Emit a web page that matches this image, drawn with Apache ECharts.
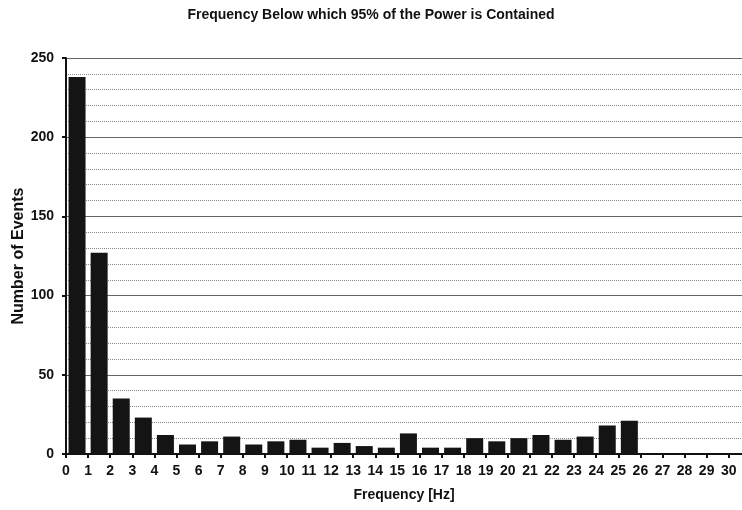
<!DOCTYPE html>
<html>
<head>
<meta charset="utf-8">
<script src="https://cdn.jsdelivr.net/npm/echarts@6/dist/echarts.min.js"></script>
<style>
  html, body { margin: 0; padding: 0; background: #fff; }
  #chart { width: 742px; height: 510px; }
</style>
</head>
<body>
<div id="chart"></div>
<script>
// Histogram of the frequency below which 95% of the power is contained
const binEdges = [0, 1, 2, 3, 4, 5, 6, 7, 8, 9, 10, 11, 12, 13, 14, 15, 16, 17, 18, 19, 20,
                  21, 22, 23, 24, 25, 26, 27, 28, 29, 30];
const eventCounts = [238, 127, 35, 23, 12, 6, 8, 11, 6, 8, 9, 4, 7, 5, 4, 13, 4, 4, 10, 8,
                     10, 12, 9, 11, 18, 21, 0, 0, 0, 0];
const yTicks = [0, 50, 100, 150, 200, 250];

const FONT = '"Liberation Sans", Arial, Helvetica, sans-serif';

// each bar sits in the middle of its 1 Hz bin
const barData = eventCounts.map((v, i) => [binEdges[i] + 0.5, v]);

const chart = echarts.init(document.getElementById('chart'), null, { renderer: 'canvas' });
chart.setOption({
  animation: false,
  backgroundColor: '#ffffff',
  title: {
    text: 'Frequency Below which 95% of the Power is Contained',
    left: 'center',
    top: 3,
    textStyle: { fontFamily: FONT, fontWeight: 'bold', fontSize: 14, color: '#111' }
  },
  grid: { left: 66, right: 0, top: 58, bottom: 56, outerBoundsMode: 'none', containLabel: false },
  xAxis: {
    type: 'value',
    min: 0,
    max: 30.6,
    interval: 1,
    name: 'Frequency [Hz]',
    nameLocation: 'middle',
    nameGap: 34,
    nameMoveOverlap: false,
    nameTextStyle: { fontFamily: FONT, fontWeight: 'bold', fontSize: 14, color: '#111' },
    axisLine: { show: true, lineStyle: { color: '#111', width: 2 } },
    axisTick: { show: true, inside: false, length: 4, customValues: binEdges, lineStyle: { color: '#111', width: 2 } },
    axisLabel: {
      customValues: binEdges,
      margin: 10,
      fontFamily: FONT, fontWeight: 'bold', fontSize: 14, color: '#111'
    },
    splitLine: { show: false }
  },
  yAxis: {
    type: 'value',
    min: 0,
    max: 250,
    interval: 50,
    name: 'Number of Events',
    nameLocation: 'middle',
    nameGap: 39,
    nameMoveOverlap: false,
    nameRotate: 90,
    nameTextStyle: { fontFamily: FONT, fontWeight: 'bold', fontSize: 16, color: '#111' },
    axisLine: { show: true, lineStyle: { color: '#111', width: 2 } },
    axisTick: { show: true, inside: false, length: 4, lineStyle: { color: '#111', width: 2 } },
    axisLabel: {
      customValues: yTicks,
      margin: 12,
      fontFamily: FONT, fontWeight: 'bold', fontSize: 14, color: '#111'
    },
    splitLine: { show: true, lineStyle: { color: '#666', width: 1, type: 'solid' } },
    minorTick: { show: false, splitNumber: 5 },
    minorSplitLine: { show: true, lineStyle: { color: '#8a8a8a', width: 1, type: [1, 1] } }
  },
  series: [{
    type: 'bar',
    data: barData,
    barWidth: 17,
    itemStyle: { color: '#141414' },
    z: 3
  }]
});
</script>
</body>
</html>
